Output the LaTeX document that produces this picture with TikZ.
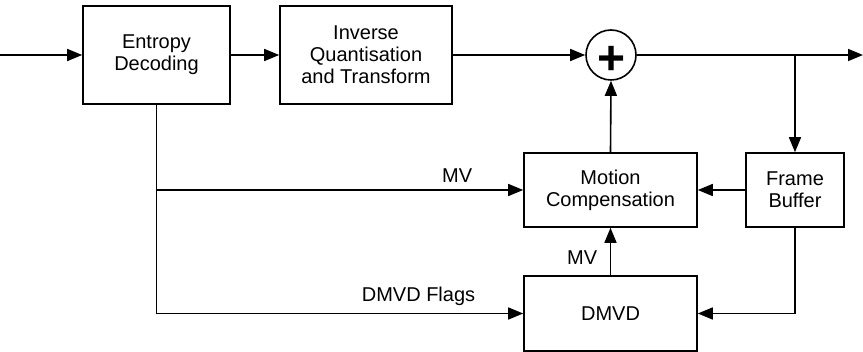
\documentclass[tikz,border=0pt]{standalone}
\usepackage{fontspec}
\setmainfont{Liberation Sans}
\usetikzlibrary{arrows.meta}
\begin{document}
\begin{tikzpicture}[x=1pt,y=-1pt,
  line width=1.6pt,
  arr/.style={-{Triangle[length=15pt,width=12pt]}},
  blk/.style={draw,rectangle,inner sep=0pt,align=center,font=\fontsize{20}{22}\selectfont},
  lbl/.style={font=\fontsize{20}{22}\selectfont,inner sep=0pt}]
\useasboundingbox (0,0) rectangle (863,352);
\node[blk,minimum width=147pt,minimum height=98pt] (ent) at (156.5,55) {Entropy\\Decoding};
\node[blk,minimum width=172pt,minimum height=98pt] (iq) at (366,55) {Inverse\\Quantisation\\and Transform};
\node[draw,circle,minimum size=50pt,inner sep=0pt] (add) at (611,55) {};
\node[inner sep=0pt,font=\fontsize{48}{48}\bfseries\selectfont] (plus) at (611.5,60) {+};
\node[blk,minimum width=173pt,minimum height=74pt] (mc) at (610.5,190) {Motion\\Compensation};
\node[blk,minimum width=98pt,minimum height=74pt] (fb) at (795,190) {Frame\\Buffer};
\node[blk,minimum width=173pt,minimum height=75pt] (dmvd) at (610.5,313.5) {DMVD};
\coordinate (in) at (0,55);
\coordinate (out) at (863,55);
\coordinate (br) at (795,55);
\draw[arr] (in) -- (ent.west);
\draw[arr] (ent.east) -- (iq.west);
\draw[arr] (iq.east) -- (add.west);
\draw[arr] (add.east) -- (out);
\draw[arr] (br) -- (fb.north);
\draw[arr] (mc.north) -- (add.south);
\draw[arr] (fb.west) -- (mc.east);
\draw[arr] (fb.south) |- (dmvd.east);
\draw[arr] (dmvd.north) -- (mc.south);
\draw[arr] (ent.south) |- (dmvd.west);
\draw[arr] (ent.south |- mc.west) -- (mc.west);
\node[lbl,anchor=south east] (lmv) at (473,183) {MV};
\node[lbl,anchor=south east] (lflags) at (476,306) {DMVD Flags};
\node[lbl,anchor=east] (lmv2) at (598,258) {MV};
\end{tikzpicture}
\end{document}
